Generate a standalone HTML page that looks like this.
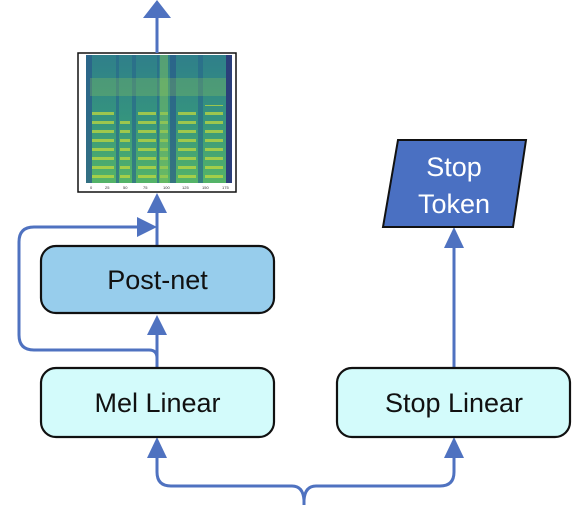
<!DOCTYPE html>
<html><head><style>
html,body{margin:0;padding:0;background:#fff;width:577px;height:505px;overflow:hidden}
svg{display:block}
text{font-family:"Liberation Sans",sans-serif}
</style></head><body>
<svg width="577" height="505" viewBox="0 0 577 505">
<defs>
<linearGradient id="sg" x1="0" y1="0" x2="0" y2="1">
<stop offset="0" stop-color="#2f7f8a"/>
<stop offset="0.5" stop-color="#35947e"/>
<stop offset="1" stop-color="#55b468"/>
</linearGradient>
<pattern id="hz" width="6" height="9" patternUnits="userSpaceOnUse">
<rect width="6" height="3" y="4" fill="#c8dc3a" opacity="0.7"/>
</pattern>
</defs>
<rect x="78" y="53" width="158" height="139" fill="#fff" stroke="#111" stroke-width="1.5"/>
<rect x="86" y="55" width="146" height="128" fill="url(#sg)"/>
<rect x="92" y="110" width="22" height="70" fill="url(#hz)"/>
<rect x="120" y="115" width="10" height="65" fill="url(#hz)"/>
<rect x="138" y="112" width="18" height="68" fill="url(#hz)"/>
<rect x="160" y="110" width="8" height="70" fill="url(#hz)"/>
<rect x="178" y="110" width="18" height="70" fill="url(#hz)"/>
<rect x="205" y="105" width="18" height="75" fill="url(#hz)"/>
<rect x="86" y="55" width="6" height="128" fill="#2a5f8a" opacity="0.8"/>
<rect x="116" y="55" width="3" height="128" fill="#2a6a8a" opacity="0.7"/>
<rect x="132" y="55" width="4" height="128" fill="#2a6a8a" opacity="0.7"/>
<rect x="157" y="55" width="2" height="128" fill="#2a6a8a" opacity="0.7"/>
<rect x="170" y="55" width="6" height="128" fill="#2a5a8a" opacity="0.7"/>
<rect x="198" y="55" width="5" height="128" fill="#2a6a8a" opacity="0.7"/>
<rect x="226" y="55" width="6" height="128" fill="#2b3f7a"/>
<rect x="160" y="55" width="8" height="128" fill="#7cc060" opacity="0.5"/>
<rect x="90" y="78" width="136" height="18" fill="#9fd050" opacity="0.25"/>
<g font-size="4" fill="#333"><text x="90" y="189">0</text><text x="105" y="189">25</text><text x="123" y="189">50</text><text x="143" y="189">75</text><text x="163" y="189">100</text><text x="182" y="189">125</text><text x="202" y="189">150</text><text x="222" y="189">175</text></g>

<g stroke="#4f72c0" stroke-width="3" fill="none">
<line x1="157" y1="53" x2="157" y2="16"/>
<line x1="157" y1="246" x2="157" y2="210"/>
<line x1="157" y1="369" x2="157" y2="332"/>
<path d="M157 369 V358 Q157 350 149 350 H34 Q19 350 19 335 V242 Q19 227 34 227 H140"/>
<line x1="454" y1="368" x2="454" y2="246"/>
<path d="M157 456 V472 Q157 486 171 486 H292 Q303 486 304 500 Q305 486 316 486 H440 Q454 486 454 472 V456"/>
<line x1="304" y1="498" x2="304" y2="505"/>
</g>
<g fill="#4f72c0">
<polygon points="157,0 143,18 171,18"/>
<polygon points="157,193 147,213 167,213"/>
<polygon points="157,315 147,335 167,335"/>
<polygon points="157,227 137,217 137,237"/>
<polygon points="454,227 444,248 464,248"/>
<polygon points="157,437 147,458 167,458"/>
<polygon points="454,437 444,458 464,458"/>
</g>

<rect x="41" y="246" width="233" height="67" rx="15" fill="#97cdec" stroke="#111" stroke-width="2.2"/>
<text x="157.5" y="289" font-size="27" text-anchor="middle" fill="#111">Post-net</text>
<rect x="41" y="368" width="233" height="69" rx="15" fill="#d3fbfb" stroke="#111" stroke-width="2.2"/>
<text x="157.5" y="412" font-size="27" text-anchor="middle" fill="#111">Mel Linear</text>
<rect x="337" y="368" width="233" height="69" rx="15" fill="#d3fbfb" stroke="#111" stroke-width="2.2"/>
<text x="454" y="412" font-size="27" text-anchor="middle" fill="#111">Stop Linear</text>

<polygon points="398,140 526,140 513,227 383,227" fill="#4a70c2" stroke="#111" stroke-width="2"/>
<text x="454" y="176" font-size="27" text-anchor="middle" fill="#fff">Stop</text>
<text x="454" y="213" font-size="27" text-anchor="middle" fill="#fff">Token</text>
</svg>
</body></html>
